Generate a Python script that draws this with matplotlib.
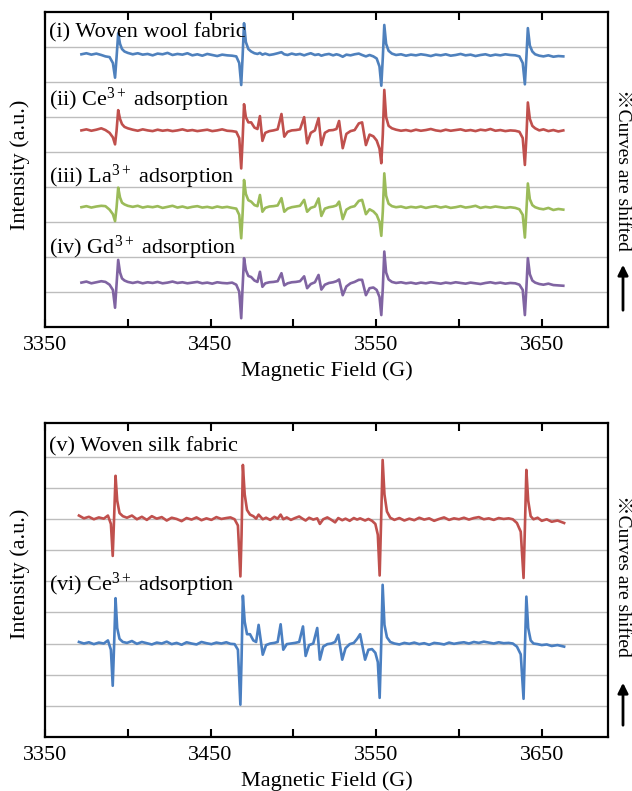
import matplotlib
matplotlib.use("Agg")
import matplotlib.pyplot as plt
from matplotlib.ticker import MultipleLocator

plt.rcParams['font.family'] = ['Liberation Serif', 'Noto Sans CJK JP']
plt.rcParams['mathtext.fontset'] = 'custom'
plt.rcParams['mathtext.rm'] = 'Liberation Serif'
plt.rcParams['mathtext.it'] = 'Liberation Serif:italic'

# ---------------- data: top panel (wool) ----------------
field_top = [
    3372, 3375, 3378, 3381, 3384, 3386.5, 3389, 3391, 3392.3, 3393.2,
    3394.2, 3395.3, 3396.5, 3398, 3400, 3403, 3406, 3409, 3412, 3415,
    3418, 3421, 3424, 3427, 3430, 3433, 3436, 3439, 3442, 3445,
    3448, 3451, 3454, 3457, 3460, 3463, 3465.5, 3467.3, 3468.5, 3469.3,
    3470.2, 3471.3, 3472.8, 3474.5, 3476.5, 3478.3, 3479.8, 3481.3, 3483, 3485.5,
    3488, 3490.5, 3492.8, 3494.5, 3496.5, 3499, 3501.5, 3504, 3506.5, 3508.3,
    3510.5, 3513, 3515.2, 3516.9, 3519, 3521.5, 3524, 3526, 3527.6, 3529.8,
    3532, 3534.5, 3537, 3539.5, 3541.5, 3543.8, 3546, 3548.3, 3550.3, 3552,
    3553.1, 3554, 3554.9, 3556, 3557.5, 3559.5, 3562, 3565, 3568, 3571,
    3574, 3577, 3580, 3583, 3586, 3589, 3592, 3595, 3598, 3601,
    3604, 3607, 3610, 3613, 3616, 3619, 3622, 3625, 3628, 3631,
    3634, 3636.5, 3638.5, 3639.8, 3640.7, 3641.6, 3642.8, 3644.3, 3646, 3648.5,
    3651, 3654, 3657, 3660, 3663,
]

wool = [
    7.80, 7.83, 7.79, 7.82, 7.78, 7.74, 7.72, 7.55, 7.13, 7.70,
    8.40, 8.10, 7.95, 7.88, 7.84, 7.80, 7.83, 7.79, 7.81, 7.77,
    7.82, 7.80, 7.84, 7.78, 7.81, 7.79, 7.83, 7.77, 7.80, 7.76,
    7.81, 7.78, 7.75, 7.79, 7.77, 7.76, 7.74, 7.55, 6.92, 7.70,
    8.69, 8.15, 7.95, 7.88, 7.83, 7.81, 7.84, 7.79, 7.82, 7.78,
    7.80, 7.83, 7.86, 7.80, 7.78, 7.82, 7.79, 7.81, 7.77, 7.80,
    7.83, 7.78, 7.80, 7.76, 7.79, 7.81, 7.77, 7.80, 7.78, 7.73,
    7.79, 7.77, 7.80, 7.82, 7.78, 7.74, 7.78, 7.74, 7.68, 7.45,
    6.90, 7.70, 8.64, 8.10, 7.90, 7.82, 7.78, 7.80, 7.76, 7.79,
    7.77, 7.80, 7.78, 7.75, 7.79, 7.77, 7.80, 7.76, 7.78, 7.81,
    7.77, 7.79, 7.75, 7.78, 7.80, 7.76, 7.79, 7.77, 7.80, 7.78,
    7.77, 7.74, 7.55, 6.94, 7.70, 8.55, 8.05, 7.88, 7.80, 7.76,
    7.74, 7.77, 7.73, 7.75, 7.74,
]

wool_ce = [
    5.62, 5.65, 5.61, 5.64, 5.68, 5.63, 5.55, 5.42, 5.22, 5.60,
    6.20, 5.95, 5.80, 5.72, 5.68, 5.64, 5.61, 5.65, 5.62, 5.60,
    5.64, 5.61, 5.63, 5.60, 5.62, 5.65, 5.61, 5.63, 5.60, 5.62,
    5.64, 5.60, 5.62, 5.65, 5.61, 5.60, 5.58, 5.40, 4.53, 5.30,
    6.37, 6.00, 5.85, 5.85, 5.70, 5.66, 6.03, 5.32, 5.55, 5.60,
    5.62, 5.65, 6.09, 5.44, 5.58, 5.62, 5.63, 5.65, 6.00, 5.25,
    5.55, 5.62, 5.97, 5.20, 5.55, 5.62, 5.63, 5.66, 5.89, 5.11,
    5.52, 5.60, 5.63, 5.82, 5.85, 5.20, 5.50, 5.45, 5.33, 5.10,
    4.68, 5.50, 6.78, 6.00, 5.75, 5.68, 5.64, 5.61, 5.63, 5.60,
    5.64, 5.61, 5.63, 5.66, 5.62, 5.60, 5.64, 5.61, 5.63, 5.65,
    5.61, 5.63, 5.60, 5.64, 5.62, 5.66, 5.61, 5.63, 5.60, 5.62,
    5.61, 5.58, 5.40, 4.63, 5.40, 6.42, 5.95, 5.75, 5.68, 5.62,
    5.65, 5.60, 5.63, 5.59, 5.62,
]

wool_la = [
    3.42, 3.45, 3.41, 3.44, 3.46, 3.45, 3.35, 3.22, 3.02, 3.40,
    3.98, 3.70, 3.55, 3.50, 3.46, 3.43, 3.46, 3.41, 3.44, 3.42,
    3.45, 3.40, 3.43, 3.46, 3.41, 3.44, 3.40, 3.43, 3.45, 3.41,
    3.43, 3.40, 3.44, 3.41, 3.43, 3.40, 3.38, 3.20, 2.53, 3.20,
    4.20, 3.80, 3.62, 3.58, 3.48, 3.45, 3.77, 3.29, 3.40, 3.44,
    3.45, 3.47, 3.68, 3.29, 3.38, 3.42, 3.44, 3.46, 3.63, 3.29,
    3.40, 3.44, 3.67, 3.17, 3.38, 3.42, 3.44, 3.47, 3.58, 3.08,
    3.35, 3.42, 3.45, 3.60, 3.63, 3.22, 3.36, 3.30, 3.20, 3.00,
    2.60, 3.30, 4.39, 3.75, 3.52, 3.45, 3.42, 3.44, 3.40, 3.43,
    3.41, 3.44, 3.40, 3.43, 3.45, 3.41, 3.44, 3.40, 3.42, 3.45,
    3.41, 3.43, 3.46, 3.40, 3.43, 3.41, 3.44, 3.42, 3.40, 3.42,
    3.40, 3.36, 3.20, 2.55, 3.30, 4.10, 3.65, 3.48, 3.42, 3.38,
    3.36, 3.40, 3.34, 3.37, 3.35,
]

wool_gd = [
    1.26, 1.29, 1.24, 1.27, 1.30, 1.28, 1.20, 1.05, 0.54, 1.20,
    1.91, 1.55, 1.38, 1.32, 1.28, 1.25, 1.28, 1.24, 1.27, 1.25,
    1.28, 1.24, 1.26, 1.29, 1.25, 1.27, 1.24, 1.26, 1.28, 1.24,
    1.26, 1.23, 1.27, 1.25, 1.24, 1.26, 1.20, 1.00, 0.24, 1.10,
    1.96, 1.62, 1.45, 1.42, 1.32, 1.28, 1.57, 1.14, 1.24, 1.27,
    1.28, 1.30, 1.53, 1.18, 1.24, 1.27, 1.28, 1.30, 1.44, 1.10,
    1.22, 1.27, 1.48, 1.06, 1.20, 1.25, 1.27, 1.30, 1.35, 0.90,
    1.15, 1.24, 1.28, 1.34, 1.34, 0.90, 1.10, 1.12, 1.05, 0.85,
    0.33, 1.10, 2.15, 1.55, 1.35, 1.28, 1.25, 1.27, 1.24, 1.26,
    1.23, 1.26, 1.24, 1.27, 1.25, 1.23, 1.26, 1.24, 1.27, 1.25,
    1.23, 1.26, 1.24, 1.22, 1.25, 1.27, 1.24, 1.26, 1.23, 1.25,
    1.24, 1.20, 1.05, 0.33, 1.10, 1.96, 1.50, 1.32, 1.26, 1.22,
    1.20, 1.23, 1.19, 1.18, 1.17,
]

# ---------------- data: bottom panel (silk) ----------------
field_bot = [
    3370.5, 3373.5, 3376.5, 3379.5, 3382.5, 3385.5, 3388, 3389.8, 3390.9, 3391.7,
    3392.6, 3393.6, 3395, 3397, 3399.5, 3402.5, 3405.5, 3408.5, 3411.5, 3414.5,
    3417.5, 3420.5, 3423.5, 3426.5, 3429.5, 3432.5, 3435.5, 3438.5, 3441.5, 3444.5,
    3447.5, 3450.5, 3453.5, 3456.5, 3459.5, 3462, 3464.5, 3466.5, 3468, 3468.7,
    3469.5, 3470.6, 3472, 3473.8, 3475.8, 3477.5, 3479, 3481.5, 3483.5, 3486,
    3488.5, 3490.5, 3492.3, 3493.9, 3496, 3498.5, 3501, 3503.5, 3505.8, 3507.4,
    3509.5, 3512, 3514.4, 3516, 3518, 3520.5, 3523, 3525.2, 3527.1, 3529.5,
    3531.5, 3534, 3536.5, 3538.5, 3540.3, 3543.3, 3545.3, 3547.5, 3549.5, 3551,
    3552.1, 3553, 3553.9, 3555, 3556.5, 3558.5, 3561, 3564, 3567, 3570,
    3573, 3576, 3579, 3582, 3585, 3588, 3591, 3594, 3597, 3600,
    3603, 3606, 3609, 3612, 3615, 3618, 3621, 3624, 3627, 3630,
    3632.5, 3635, 3637.3, 3639, 3639.8, 3640.7, 3641.8, 3643.3, 3645, 3647.5,
    3650, 3653, 3656, 3659.5, 3663.5,
]

silk = [
    7.12, 7.03, 7.08, 7.00, 7.06, 7.02, 7.12, 6.85, 5.82, 7.00,
    8.40, 7.60, 7.20, 7.10, 7.05, 7.12, 7.00, 7.08, 6.98, 7.10,
    7.02, 7.07, 6.96, 7.05, 7.01, 6.94, 7.04, 6.99, 7.06, 6.97,
    7.03, 6.98, 7.07, 7.01, 7.04, 7.06, 7.00, 6.80, 5.16, 6.50,
    8.75, 7.80, 7.30, 7.15, 7.10, 7.02, 7.15, 7.00, 7.05, 6.98,
    7.08, 7.02, 7.15, 7.00, 7.06, 6.98, 7.04, 7.09, 7.01, 6.96,
    7.05, 6.99, 7.03, 6.85, 7.00, 7.06, 6.98, 6.90, 7.04, 6.97,
    7.02, 6.95, 7.04, 6.99, 7.03, 6.96, 7.01, 6.95, 6.85, 6.50,
    5.19, 7.00, 8.91, 7.80, 7.25, 7.05, 6.98, 7.04, 6.96, 7.02,
    6.97, 7.05, 6.99, 7.03, 6.95, 7.01, 7.06, 6.98, 7.03, 7.00,
    7.05, 6.99, 7.04, 7.07, 7.00, 7.03, 6.98, 7.04, 7.01, 7.03,
    7.00, 6.88, 6.60, 5.11, 6.70, 8.59, 7.60, 7.10, 7.00, 7.05,
    6.95, 7.00, 6.92, 6.96, 6.88,
]

silk_ce = [
    3.05, 3.00, 3.04, 2.98, 3.03, 3.00, 3.10, 2.80, 1.64, 2.90,
    4.46, 3.50, 3.15, 3.05, 3.02, 3.08, 2.99, 3.05, 3.01, 2.97,
    3.03, 3.00, 3.06, 2.98, 3.02, 2.96, 3.04, 3.00, 2.97, 3.05,
    3.01, 2.98, 3.03, 3.00, 3.04, 2.99, 2.98, 2.80, 1.03, 2.50,
    4.54, 3.70, 3.30, 3.30, 3.10, 3.05, 3.60, 2.64, 2.95, 3.00,
    3.02, 3.05, 3.62, 2.80, 2.98, 3.00, 3.02, 3.05, 3.55, 2.60,
    2.95, 3.00, 3.50, 2.48, 2.90, 2.98, 3.00, 3.05, 3.28, 2.48,
    2.85, 2.98, 3.02, 3.15, 3.30, 2.48, 2.80, 2.82, 2.70, 2.40,
    1.25, 2.90, 4.89, 3.60, 3.20, 3.05, 3.00, 2.97, 3.02, 2.99,
    3.03, 2.98, 3.01, 2.96, 3.02, 3.00, 2.97, 3.03, 2.99, 3.02,
    3.04, 3.00, 3.05, 3.02, 3.06, 3.03, 3.00, 3.04, 3.01, 3.02,
    3.00, 2.90, 2.65, 1.22, 2.80, 4.51, 3.50, 3.10, 3.00, 2.98,
    2.95, 2.97, 2.92, 2.95, 2.90,
]

top_labels = ["(i) Woven wool fabric", "(ii) Ce$^{3+}$ adsorption",
              "(iii) La$^{3+}$ adsorption", "(iv) Gd$^{3+}$ adsorption"]
bot_labels = ["(v) Woven silk fabric", "(vi) Ce$^{3+}$ adsorption"]
xtick_labels = ["3350", "3450", "3550", "3650"]

BLUE = "#4F81BD"
RED = "#C0504D"
GREEN = "#9BBB59"
PURPLE = "#8064A2"

W, H = 632, 791
fig = plt.figure(figsize=(W / 100, H / 100), dpi=100)


def px_axes(left, top, right, bottom):
    return fig.add_axes([left / W, 1 - bottom / H, (right - left) / W, (bottom - top) / H])


def style(ax, ymax, ngrid):
    ax.set_xlim(3350, 3690)
    ax.set_ylim(0, ymax)
    for g in range(1, ngrid + 1):
        ax.axhline(g, color="#bdbdbd", lw=1.0, zorder=0)
    ax.set_yticks([])
    ax.set_xticks([3350, 3450, 3550, 3650])
    ax.set_xticklabels(xtick_labels)
    ax.xaxis.set_minor_locator(MultipleLocator(50))
    ax.tick_params(axis="x", which="both", direction="in", top=True, bottom=True,
                   length=6, width=1.5, labelsize=16, pad=7)
    for s in ax.spines.values():
        s.set_linewidth(1.6)
        s.set_color("black")
    ax.set_xlabel("Magnetic Field (G)", fontsize=16, labelpad=4)


# top panel
ax1 = px_axes(45, 12.4, 608, 326.6)
style(ax1, 9, 8)
lw = 1.9
ax1.plot(field_top, wool, color=BLUE, lw=lw)
ax1.plot(field_top, wool_ce, color=RED, lw=lw)
ax1.plot(field_top, wool_la, color=GREEN, lw=lw)
ax1.plot(field_top, wool_gd, color=PURPLE, lw=lw)
for lab, yv in zip(top_labels, [8.41, 6.49, 4.29, 2.25]):
    ax1.text(3352.5, yv, lab, fontsize=16, va="center", ha="left")

# bottom panel
ax2 = px_axes(45, 423.3, 608, 736.7)
style(ax2, 10.09, 9)
ax2.plot(field_bot, silk, color=RED, lw=lw)
ax2.plot(field_bot, silk_ce, color="#4A7FC1", lw=lw)
for lab, yv in zip(bot_labels, [9.33, 4.89]):
    ax2.text(3352.5, yv, lab, fontsize=16, va="center", ha="left")

# y labels
fig.text(20 / W, 1 - 165 / H, "Intensity (a.u.)", rotation=90, fontsize=16,
         ha="center", va="center")
fig.text(20 / W, 1 - 574 / H, "Intensity (a.u.)", rotation=90, fontsize=16,
         ha="center", va="center")

# side notes
for ytxt, yb, yt in [(170, 313, 262), (576, 728, 680)]:
    fig.text(623 / W, 1 - ytxt / H, "\u203bCurves are shifted", rotation=270,
             fontsize=14, ha="center", va="center",
             family=["Liberation Serif", "Noto Sans CJK JP"])
    fig.add_artist(plt.matplotlib.patches.FancyArrowPatch(
        (623 / W, 1 - yb / H), (623 / W, 1 - yt / H), transform=fig.transFigure,
        arrowstyle="-|>,head_length=6,head_width=3", color="black", lw=2))

fig.savefig("out.png", dpi=100)
